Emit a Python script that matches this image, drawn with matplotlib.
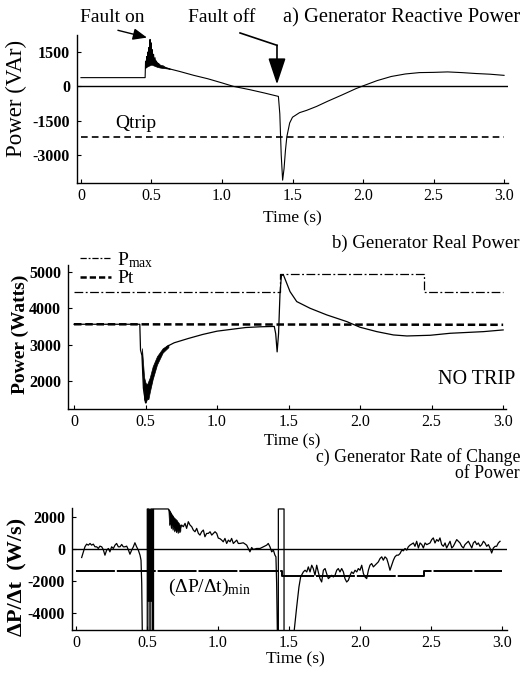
import matplotlib
matplotlib.use("Agg")
import matplotlib.pyplot as plt
from matplotlib.lines import Line2D

plt.rcParams["font.family"] = ["Liberation Serif", "DejaVu Serif"]
plt.rcParams["mathtext.fontset"] = "custom"
plt.rcParams["mathtext.rm"] = "Liberation Serif"
plt.rcParams["mathtext.it"] = "Liberation Serif:italic"
plt.rcParams["mathtext.bf"] = "Liberation Serif:bold"

# ---- a) reactive power (VAr) ----
q_t = [0.00, 0.455, 0.458, 0.462, 0.466, 0.470, 0.474, 0.478, 0.482, 0.486, 0.490, 0.494,
       0.498, 0.502, 0.506, 0.510, 0.515, 0.520, 0.525, 0.530, 0.535, 0.540, 0.550, 0.560,
       0.580, 0.600, 0.630, 0.70, 0.80, 0.90, 1.00, 1.08, 1.20, 1.30, 1.40, 1.41, 1.42,
       1.43, 1.44, 1.45, 1.46, 1.48, 1.50, 1.55, 1.60, 1.67, 1.75, 1.85, 1.95, 2.00, 2.10,
       2.20, 2.30, 2.40, 2.50, 2.60, 2.70, 2.80, 2.90, 3.00]
q_v = [380, 380, 1100, 800, 1300, 900, 1500, 1000, 1700, 1100, 2050, 1200,
       1900, 1100, 1600, 1000, 1400, 950, 1250, 900, 1100, 880, 1000, 850,
       900, 820, 760, 650, 480, 330, 150, 0, -150, -290, -440, -1200, -3000,
       -4100, -3600, -2800, -2200, -1600, -1350, -1150, -1050, -880, -650, -380, -100, 20, 250,
       430, 540, 600, 610, 630, 600, 560, 530, 480]
# dense oscillation band right after the fault
qb_t = [0.465, 0.48, 0.50, 0.52, 0.54, 0.56, 0.58, 0.60, 0.63]
qb_lo = [850, 900, 950, 900, 850, 820, 800, 790, 760]
qb_hi = [1050, 1250, 1350, 1200, 1050, 950, 880, 830, 780]
qtrip_t = [0.0, 3.0]
qtrip_v = [-2230, -2230]

# ---- b) real power (W) ----
pmax_t = [0.0, 1.44, 1.44, 2.45, 2.45, 3.0]
pmax_v = [4460, 4460, 4940, 4940, 4450, 4450]
pt_t = [0.0, 3.0]
pt_v = [3560, 3545]
p_t = [0.00, 0.460, 0.465, 0.475, 0.485, 0.50, 0.52, 0.54, 0.55, 0.58, 0.60, 0.65, 0.70,
       0.80, 0.90, 1.00, 1.10, 1.20, 1.30, 1.40, 1.41, 1.42, 1.43, 1.44, 1.45, 1.464,
       1.487, 1.51, 1.557, 1.65, 1.767, 1.907, 2.00, 2.117, 2.233, 2.327, 2.49, 2.63,
       2.862, 3.00]
p_v = [3560, 3560, 2850, 2700, 1800, 1400, 1700, 1900, 2100, 2500, 2700, 2950, 3050,
       3170, 3280, 3370, 3420, 3470, 3490, 3500, 3300, 2800, 3300, 4400, 4900, 4917,
       4689, 4459, 4184, 4000, 3817, 3633, 3477, 3357, 3266, 3238, 3257, 3312,
       3357, 3404]
pb_t = [0.475, 0.49, 0.50, 0.51, 0.52, 0.53, 0.55, 0.58, 0.62, 0.66]
pb_lo = [2500, 1500, 1400, 1500, 1500, 1700, 2050, 2450, 2780, 2930]
pb_hi = [2900, 2100, 1950, 1900, 2000, 2100, 2400, 2680, 2900, 3000]

# ---- c) rate of change of power (W/s) ----
c_t = [0.040, 0.063, 0.075, 0.087, 0.099, 0.110, 0.122, 0.134, 0.146, 0.157, 0.169, 0.181,
       0.192, 0.204, 0.216, 0.228, 0.239, 0.251, 0.263, 0.275, 0.286, 0.298, 0.310, 0.322,
       0.333, 0.345, 0.357, 0.368, 0.380, 0.392, 0.404, 0.415, 0.427, 0.439, 0.451, 0.458,
       0.463, 0.467,
       0.502, 0.502, 0.515, 0.515, 0.527, 0.527, 0.540, 0.540, 0.546, 0.546, 0.650, 0.690,
       0.732, 0.744, 0.756, 0.768, 0.779, 0.791, 0.803, 0.815, 0.826, 0.838, 0.850, 0.862,
       0.873, 0.885, 0.897, 0.908, 0.920, 0.932, 0.944, 0.956, 0.967, 0.979, 0.991, 1.002,
       1.014, 1.026, 1.037, 1.049, 1.061, 1.073, 1.085, 1.096, 1.108, 1.120, 1.132, 1.143,
       1.155, 1.178, 1.202, 1.225, 1.237, 1.249, 1.272, 1.296, 1.319, 1.343, 1.354, 1.366,
       1.378, 1.390, 1.401, 1.408, 1.413, 1.418,
       1.425, 1.425, 1.465, 1.465, 1.535, 1.554, 1.570, 1.582, 1.601, 1.613, 1.625, 1.636,
       1.648, 1.660, 1.671, 1.683, 1.695, 1.706, 1.718, 1.730, 1.742, 1.754, 1.765, 1.777,
       1.789, 1.801, 1.812, 1.824, 1.836, 1.847, 1.859, 1.871, 1.883, 1.894, 1.906, 1.918,
       1.930, 1.941, 1.953, 1.965, 1.977, 1.988, 2.000, 2.012, 2.024, 2.035, 2.047, 2.059,
       2.070, 2.082, 2.094, 2.106, 2.118, 2.129, 2.141, 2.153, 2.164, 2.176, 2.188, 2.199,
       2.211, 2.223, 2.235, 2.246, 2.258, 2.270, 2.282, 2.294, 2.305, 2.317, 2.329, 2.340,
       2.352, 2.376, 2.387, 2.399, 2.411, 2.423, 2.435, 2.446, 2.458, 2.470, 2.493, 2.505,
       2.516, 2.528, 2.540, 2.552, 2.563, 2.575, 2.587, 2.599, 2.610, 2.622, 2.634, 2.646,
       2.657, 2.669, 2.681, 2.693, 2.704, 2.716, 2.728, 2.739, 2.751, 2.763, 2.775, 2.787,
       2.798, 2.810, 2.822, 2.833, 2.845, 2.857, 2.869, 2.880, 2.892, 2.904, 2.915, 2.927,
       2.939, 2.951, 2.962, 2.974, 2.986]
c_v = [-521, 146, 312, 250, 354, 250, 312, 146, 146, 42, 187, 146,
       -21, -375, -62, 42, -167, 146, 42, 250, 354, 146, 146, 292,
       146, 146, 187, -21, -313, -62, 146, 396, 146, -62, -375, -688,
       -2146, -5200,
       -5200, 2500, 2500, -5200, -5200, 2500, 2500, -5200, -5200, 2500, 2500, 1900,
       1188, 1500, 1396, 1604, 1292, 1708, 1500, 1396, 1188, 1083, 1292, 979,
       875, 1083, 1188, 771, 979, 979, 1083, 875, 979, 1083, 979, 688,
       650, 562, 458, 667, 354, 562, 458, 667, 354, 458, 562, 354,
       354, 396, 250, -167, 104, -21, 42, 42, 146, 250, 354, 146,
       -167, -62, -375, -479, -2146, -5200,
       -5200, 2500, 2500, -5200, -5200, -3604, -2354, -1729, -1417, -1312, -1417, -1104,
       -1417, -1000, -1208, -1625, -1000, -1417, -1833, -2042, -1312, -1208, -1521, -1833,
       -1729, -1625, -1729, -1625, -1312, -1208, -1417, -1208, -1417, -1833, -2042, -1938,
       -1625, -1417, -1521, -1312, -1417, -1208, -1312, -1000, -1521, -1729, -1833, -1312,
       -1000, -896, -1104, -1000, -896, -792, -583, -479, -688, -479, -583, -896,
       -1312, -1000, -688, -479, -375, -375, -271, -62, -104, 42, -62, 146,
       250, 385, 177, 490, 73, 385, 281, 73, 385, 281, 385, 594,
       698, 385, 594, 490, 698, 281, 177, 385, 73, 281, 490, 73,
       177, 385, 594, 490, 385, 177, 73, 281, 385, 490, 281, 73,
       385, 490, 281, 385, 177, 281, 490, 385, 177, 281, 73, -240,
       73, 177, 177, 385, 490]
# dense oscillation after the fault (ragged comb)
cb_t = [0.650, 0.656, 0.662, 0.668, 0.674, 0.680, 0.686, 0.692, 0.698, 0.704, 0.710,
        0.716, 0.722, 0.728, 0.735]
cb_lo = [2500, 1500, 1700, 1300, 1500, 1200, 1400, 1100, 1300, 1050, 1250, 1000,
         1200, 1050, 1150]
cb_hi = [2500, 2450, 2350, 2250, 2150, 2100, 2000, 1950, 1900, 1850, 1800, 1700,
         1650, 1550, 1500]
blk_t = [0.502, 0.540]
blk_lo = [-3200, -3200]
blk_hi = [2500, 2500]
dmin_t = [0.0, 1.45, 1.45, 2.45, 2.45, 3.0]
dmin_v = [-1375, -1375, -1690, -1690, -1375, -1375]

W, H = 522, 674


def fx(x):
    return x / W


def fy(y):
    return 1 - y / H


def style_axes(ax, xlim, ylim, yticks):
    ax.set_xlim(*xlim)
    ax.set_ylim(*ylim)
    ax.set_xticks([0, 0.5, 1.0, 1.5, 2.0, 2.5, 3.0])
    ax.set_xticklabels(["0", "0.5", "1.0", "1.5", "2.0", "2.5", "3.0"], fontsize=11.5)
    ax.set_yticks(yticks)
    ax.set_yticklabels([str(v) for v in yticks], fontsize=11.5, fontweight="bold")
    for s in ["top", "right"]:
        ax.spines[s].set_visible(False)
    for s in ["left", "bottom"]:
        ax.spines[s].set_linewidth(1.0)
    ax.tick_params(direction="in", length=3, width=0.8, pad=5)
    ax.tick_params(axis="x", pad=3.5)


fig = plt.figure(figsize=(W / 100, H / 100), dpi=100)

# ---- panel a ----
ax_a = fig.add_axes([fx(77), fy(183), (508 - 77) / W, (183 - 35) / H])
style_axes(ax_a, (-0.028, 3.028), (-4224, 2243), [1500, 0, -1500, -3000])
ax_a.axhline(0, color="k", lw=1.0)
ax_a.plot(qtrip_t, qtrip_v, color="k", lw=1.2, dashes=(4, 2.5))
ax_a.fill_between(qb_t, qb_lo, qb_hi, color="k", lw=0.5)
ax_a.plot(q_t, q_v, color="k", lw=0.8)
ax_a.text(0.24, -1620, "Qtrip", fontsize=14, va="center", ha="left")
ax_a.annotate("", xy=(0.468, 2130), xytext=(0.262, 2449), annotation_clip=False,
              arrowprops=dict(arrowstyle="-|>,head_length=0.6,head_width=0.25",
                              color="k", lw=1.0, shrinkA=0, shrinkB=0, mutation_scale=14))
ax_a.plot([1.128, 1.39], [2332, 1793], color="k", lw=1.2, clip_on=False)
ax_a.annotate("", xy=(1.39, 87), xytext=(1.39, 1793), annotation_clip=False,
              arrowprops=dict(arrowstyle="-|>,head_length=0.9,head_width=0.3",
                              color="k", lw=1.2, shrinkA=0, shrinkB=0, mutation_scale=18))

fig.text(fx(80), fy(18), "Fault on", fontsize=14, va="center", ha="left")
fig.text(fx(188), fy(18), "Fault off", fontsize=14, va="center", ha="left")
fig.text(fx(520), fy(18), "a) Generator Reactive Power", fontsize=14.8, va="center", ha="right")
fig.text(fx(16), fy(98), "Power (VAr)", fontsize=16.5, rotation=90, va="center", ha="center")
fig.text(fx(292), fy(218), "Time (s)", fontsize=12.5, va="center", ha="center")

# ---- panel b ----
ax_b = fig.add_axes([fx(68), fy(409), (506 - 68) / W, (409 - 265) / H])
style_axes(ax_b, (-0.042, 3.02), (1229, 5190), [5000, 4000, 3000, 2000])
ax_b.plot(pmax_t, pmax_v, color="k", lw=0.9, dashes=(7, 2, 1.5, 2))
ax_b.plot(pt_t, pt_v, color="k", lw=1.8, dashes=(3, 1.5))
ax_b.fill_between(pb_t, pb_lo, pb_hi, color="k", lw=0.5)
ax_b.plot(p_t, p_v, color="k", lw=0.9)
handles = [Line2D([], [], color="k", lw=0.9, dashes=(5, 1.5, 1.5, 1.5)),
           Line2D([], [], color="k", lw=1.8, dashes=(2.5, 1.2))]
ax_b.legend(handles, ["P$_{\\rm max}$", "Pt"], loc="upper left", frameon=False,
            bbox_to_anchor=(fx(80), fy(250)), bbox_transform=fig.transFigure,
            fontsize=14, handlelength=1.6, handletextpad=0.3, labelspacing=0.0,
            borderpad=0, borderaxespad=0)

fig.text(fx(520), fy(243), "b) Generator Real Power", fontsize=13.5, va="center", ha="right")
fig.text(fx(515), fy(380), "NO TRIP", fontsize=14.5, va="center", ha="right")
fig.text(fx(20), fy(334), "Power (Watts)", fontsize=14, fontweight="bold", rotation=90,
         va="center", ha="center")
fig.text(fx(292), fy(441), "Time (s)", fontsize=12, va="center", ha="center")

# ---- panel c ----
ax_c = fig.add_axes([fx(72), fy(630), (507 - 72) / W, (630 - 508) / H])
style_axes(ax_c, (-0.028, 3.035), (-5030, 2560), [2000, 0, -2000, -4000])
ax_c.axhline(0, color="k", lw=1.0)
ax_c.plot(dmin_t, dmin_v, color="k", lw=1.4, dashes=(20, 1))
ax_c.fill_between(blk_t, blk_lo, blk_hi, color="k", lw=0.5)
ax_c.fill_between(cb_t, cb_lo, cb_hi, color="k", lw=0.5)
ax_c.plot(c_t, c_v, color="k", lw=0.9)

fig.text(fx(520), fy(457), "c) Generator Rate of Change", fontsize=12.8, va="center", ha="right")
fig.text(fx(520), fy(474), "of Power", fontsize=12.8, va="center", ha="right")
fig.text(fx(168), fy(587), "(ΔP/Δt)$_{\\rm min}$", fontsize=14, va="center", ha="left")
fig.text(fx(17), fy(577), "ΔP/Δt  (W/s)", fontsize=16, fontweight="bold", rotation=90,
         va="center", ha="center")
fig.text(fx(295), fy(659), "Time (s)", fontsize=12.5, va="center", ha="center")

fig.savefig("out.png", dpi=100)
